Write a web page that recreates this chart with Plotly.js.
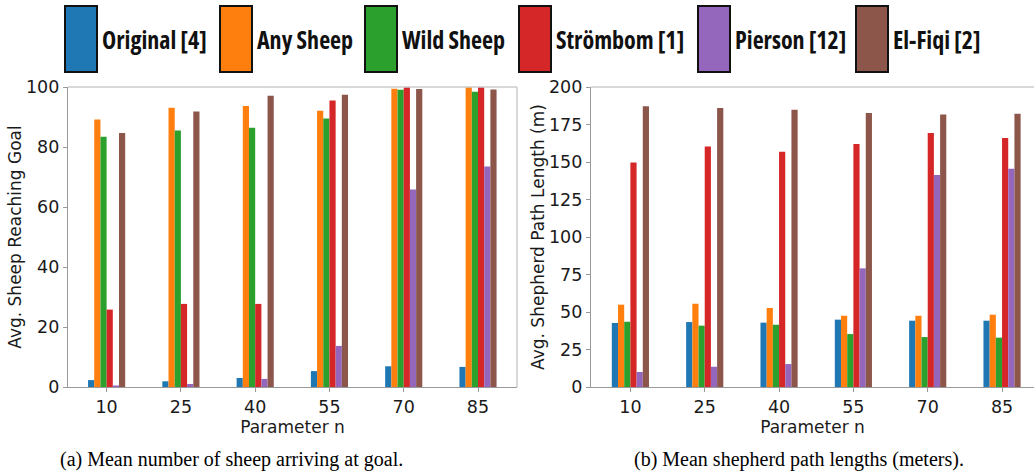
<!DOCTYPE html>
<html><head><meta charset="utf-8">
<script src="https://cdn.plot.ly/plotly-3.0.1.min.js"></script>
<style>
html,body{margin:0;padding:0;background:#fff;overflow:hidden;}
#chart{width:1034px;height:474px;}
text[style*="Open Sans"]{font-stretch:75% !important;}
</style></head><body><div id="chart"></div>
<script>
const categories = ['10','25','40','55','70','85'];
const seriesNames = ['Original [4]','Any Sheep','Wild Sheep','Strömbom [1]','Pierson [12]','El-Fiqi [2]'];
const seriesColors = ['#1f77b4','#ff7f0e','#2ca02c','#d62728','#9467bd','#8c564b'];
// (a) Mean number of sheep arriving at goal
const sheepOriginal = [2.3, 1.9, 3.0, 5.3, 6.9, 6.7];
const sheepAny      = [89.2, 93.1, 93.7, 92.1, 99.4, 100];
const sheepWild     = [83.4, 85.5, 86.4, 89.5, 99.1, 98.4];
const sheepStrombom = [25.8, 27.7, 27.7, 95.5, 100, 100];
const sheepPierson  = [0.5, 1.0, 2.7, 13.7, 65.8, 73.5];
const sheepElFiqi   = [84.7, 91.8, 97.1, 97.4, 99.3, 99.2];
// (b) Mean shepherd path lengths (meters)
const pathOriginal = [42.7, 43.3, 42.9, 44.9, 44.2, 44.2];
const pathAny      = [54.9, 55.5, 52.7, 47.5, 47.5, 48.2];
const pathWild     = [43.5, 40.9, 41.5, 35.3, 33.3, 32.9];
const pathStrombom = [149.7, 160.4, 156.9, 162.0, 169.3, 166.0];
const pathPierson  = [10.0, 13.5, 15.3, 79.1, 141.3, 145.5];
const pathElFiqi   = [187.1, 186.0, 184.9, 182.7, 181.7, 182.2];
const captions = ['(a) Mean number of sheep arriving at goal.', '(b) Mean shepherd path lengths (meters).'];
const xTitle = 'Parameter n';
const yTitles = ['Avg. Sheep Reaching Goal', 'Avg. Shepherd Path Length (m)'];

const W = 1034, H = 474;
const px = v => v / W;
const py = v => 1 - v / H;

const sheepSeries = [sheepOriginal, sheepAny, sheepWild, sheepStrombom, sheepPierson, sheepElFiqi];
const pathSeries = [pathOriginal, pathAny, pathWild, pathStrombom, pathPierson, pathElFiqi];

const traces = [];
sheepSeries.forEach((vals, i) => traces.push({
  type: 'bar', x: categories, y: vals, name: seriesNames[i], xaxis: 'x', yaxis: 'y',
  marker: {color: seriesColors[i], line: {width: 0}}, showlegend: false, hoverinfo: 'y'
}));
pathSeries.forEach((vals, i) => traces.push({
  type: 'bar', x: categories, y: vals, name: seriesNames[i], xaxis: 'x2', yaxis: 'y2',
  marker: {color: seriesColors[i], line: {width: 0}}, showlegend: false, hoverinfo: 'y'
}));

const tickFont = {family: 'DejaVu Sans', size: 17.5, color: '#1a1a1a'};
const titleFont = {family: 'DejaVu Sans', size: 17, color: '#1a1a1a'};
const yDom = [py(387), py(87)];

const axCommon = {
  showline: true, linecolor: '#999', linewidth: 1.2, ticks: 'outside', ticklen: 4,
  tickcolor: '#999', tickwidth: 1, tickfont: tickFont, showgrid: false, zeroline: false
};

const shapes = [];
const annotations = [];
// spines top/right (lighter)
shapes.push({type: 'line', xref: 'paper', yref: 'paper', x0: px(68), x1: px(517), y0: py(87), y1: py(87), line: {color: '#ccc', width: 1.5}});
shapes.push({type: 'line', xref: 'paper', yref: 'paper', x0: px(517), x1: px(517), y0: py(87), y1: py(387), line: {color: '#ccc', width: 1.5}});
shapes.push({type: 'line', xref: 'paper', yref: 'paper', x0: px(591), x1: 1, y0: py(87), y1: py(87), line: {color: '#ccc', width: 1.5}});

// legend
const legBoxX = [65, 220, 365, 519, 698, 856];
seriesNames.forEach((n, i) => {
  shapes.push({type: 'rect', xref: 'paper', yref: 'paper', x0: px(legBoxX[i]), x1: px(legBoxX[i] + 32), y0: py(72), y1: py(6),
    fillcolor: seriesColors[i], line: {color: '#111', width: 2}});
  annotations.push({xref: 'paper', yref: 'paper', x: px(legBoxX[i] + 35), y: py(40), xanchor: 'left', yanchor: 'middle',
    text: '<b>' + n + '</b>', showarrow: false, font: {family: 'Open Sans', size: 24, color: '#111'}});
});
// captions
annotations.push({xref: 'paper', yref: 'paper', x: px(231), y: py(459), xanchor: 'center', yanchor: 'middle', text: captions[0], showarrow: false, font: {family: 'Liberation Serif', size: 20, color: '#000'}});
annotations.push({xref: 'paper', yref: 'paper', x: px(799), y: py(459), xanchor: 'center', yanchor: 'middle', text: captions[1], showarrow: false, font: {family: 'Liberation Serif', size: 20, color: '#000'}});

const layout = {
  width: W, height: H,
  margin: {l: 0, r: 0, t: 0, b: 0, autoexpand: false},
  paper_bgcolor: '#fff', plot_bgcolor: '#fff',
  barmode: 'group', bargap: 0.5, bargroupgap: 0,
  showlegend: false,
  xaxis: Object.assign({}, axCommon, {domain: [px(68), px(517)], type: 'category', range: [-0.52, 5.525], anchor: 'y',
    title: {text: xTitle, font: titleFont, standoff: 0}}),
  yaxis: Object.assign({}, axCommon, {domain: yDom, range: [0, 100], dtick: 20, anchor: 'x',
    title: {text: yTitles[0], font: titleFont, standoff: 0}}),
  xaxis2: Object.assign({}, axCommon, {domain: [px(591), 1], type: 'category', range: [-0.53, 5.43], anchor: 'y2',
    title: {text: xTitle, font: titleFont, standoff: 0}}),
  yaxis2: Object.assign({}, axCommon, {domain: yDom, range: [0, 200], dtick: 25, anchor: 'x2',
    title: {text: yTitles[1], font: titleFont, standoff: 0}}),
  shapes: shapes,
  annotations: annotations
};

Plotly.newPlot('chart', traces, layout, {displayModeBar: false, staticPlot: true});
</script></body></html>
